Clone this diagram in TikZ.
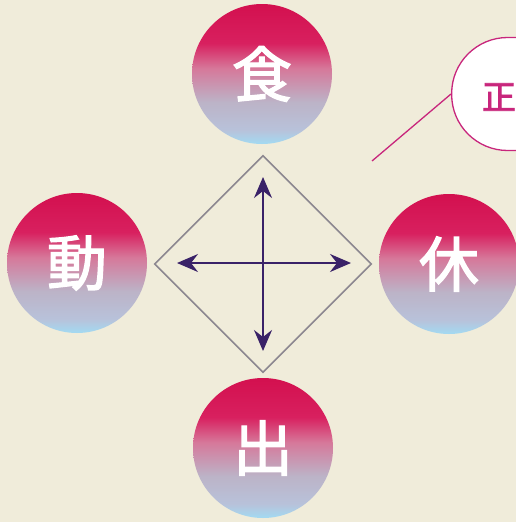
\documentclass[tikz,border=0pt]{standalone}
\usepackage{fontspec}
\usetikzlibrary{shapes.geometric,arrows.meta}
\newfontfamily\cjk{Noto Sans CJK JP}[FakeBold=2.2]
\definecolor{bg}{HTML}{F0ECDA}
\definecolor{ctop}{HTML}{D3104F}
\definecolor{cred}{HTML}{D8205F}
\definecolor{cpink}{HTML}{D6789A}
\definecolor{cgray}{HTML}{BCB3C7}
\definecolor{clav}{HTML}{B8C2DA}
\definecolor{cblue}{HTML}{A2DAF2}
\definecolor{arrowc}{HTML}{3A2268}
\definecolor{diag}{HTML}{8C8790}
\definecolor{mag}{HTML}{C8267C}
\pgfdeclareverticalshading{ballshade}{100bp}{color(0bp)=(cblue); color(25bp)=(cblue); color(30bp)=(clav); color(40bp)=(cgray); color(52bp)=(cpink); color(61bp)=(cred); color(75bp)=(ctop); color(100bp)=(ctop)}
\tikzset{
  ball/.style={circle, minimum size=140pt, inner sep=0pt, shading=ballshade, text=white,
    font=\cjk\fontsize{60}{60}\selectfont},
  dia/.style={diamond, draw=diag, line width=1.6pt, minimum size=217pt, inner sep=0pt},
  arr/.style={draw=arrowc, line width=2pt, {Stealth[length=21pt,width=18pt,inset=7pt]}-{Stealth[length=21pt,width=18pt,inset=7pt]}},
  bubble/.style={draw=mag, line width=1.3pt, fill=white, rounded corners=56pt, minimum height=113pt, minimum width=200pt, inner sep=0pt, anchor=west},
  callline/.style={draw=mag, line width=1.3pt}
}
\begin{document}
\begin{tikzpicture}[x=1pt,y=-1pt]
\useasboundingbox (0,0) rectangle (516,522);
\clip (0,0) rectangle (516,522);
\fill[bg] (0,0) rectangle (516,522);
\node[ball] (shoku) at (262,74) {食};
\node[ball] (dou) at (77,263) {動};
\node[ball] (kyu) at (449,264) {休};
\node[ball] (shutsu) at (263,448) {出};
\node[dia] (d) at (263,264) {};
\coordinate (up) at (263,177);
\coordinate (down) at (263,351);
\coordinate (left) at (177,263);
\coordinate (right) at (351,263);
\draw[arr] (up) -- (down);
\draw[arr] (left) -- (right);
\node[bubble] (bub) at (451,94) {};
\node[text=mag, font=\cjk\fontsize{34}{34}\selectfont] (zheng) at (499,97) {正};
\coordinate (tail) at (372,161);
\draw[callline] (tail) -- (bub.west);
\end{tikzpicture}
\end{document}
